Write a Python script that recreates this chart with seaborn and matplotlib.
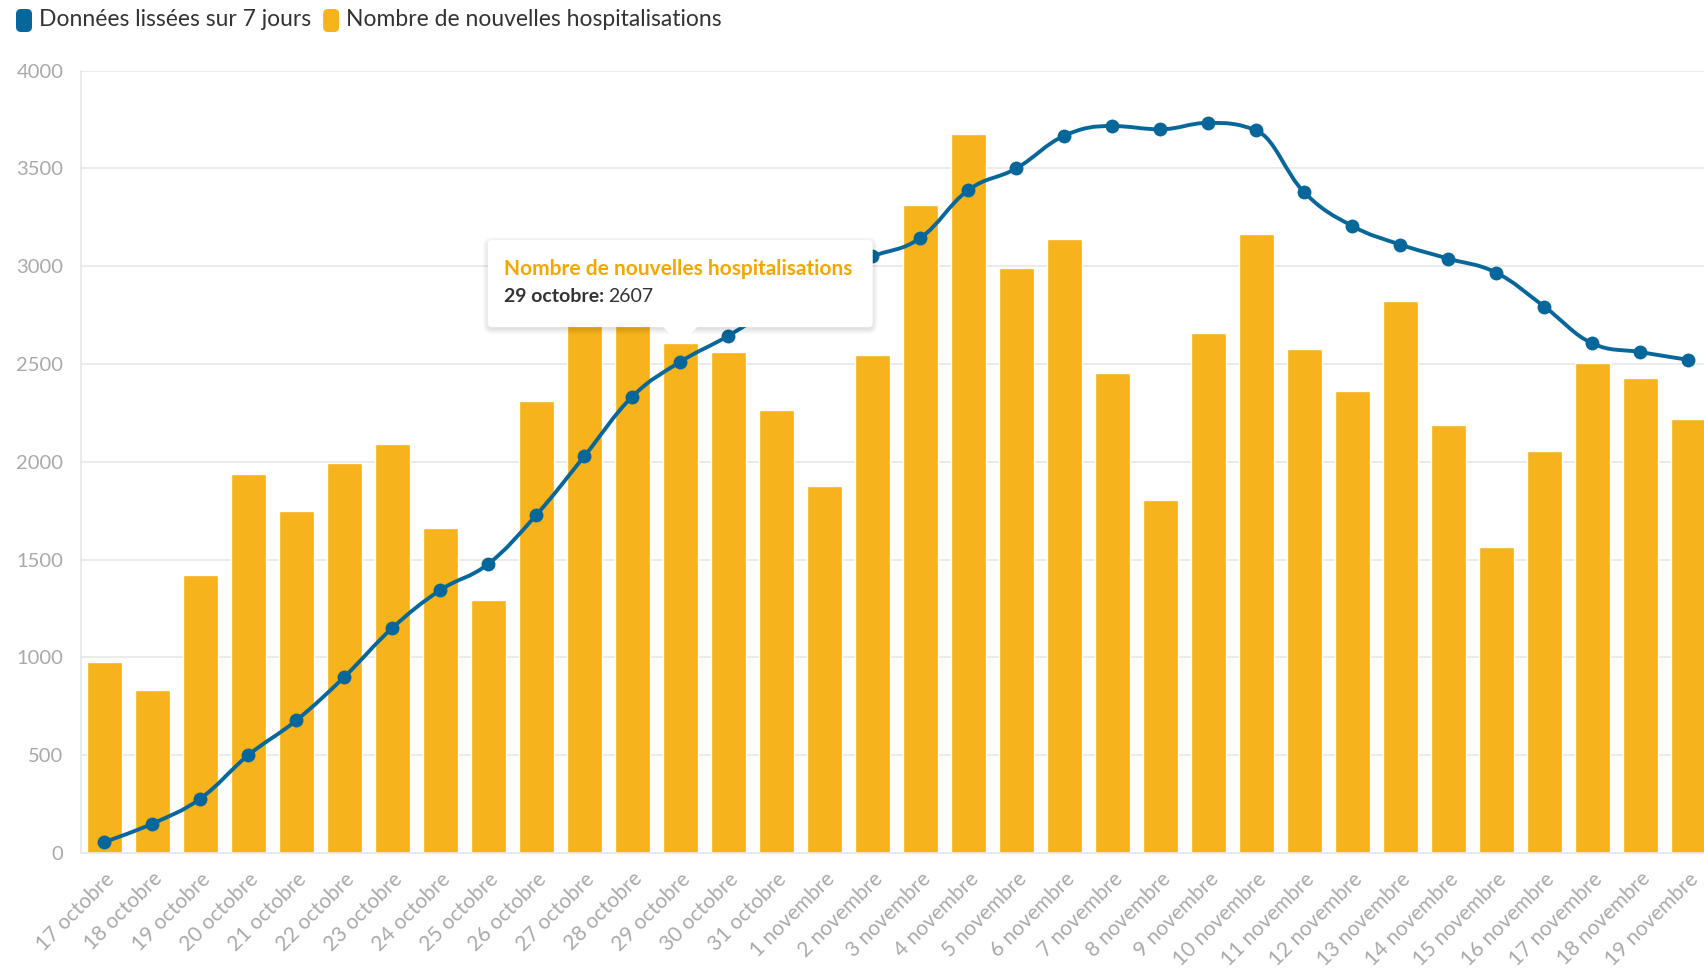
import matplotlib
matplotlib.use("Agg")
import matplotlib.pyplot as plt
from matplotlib.patches import FancyBboxPatch, Polygon, PathPatch
from matplotlib.path import Path
from matplotlib.transforms import IdentityTransform, ScaledTranslation
import numpy as np
import pandas as pd
import seaborn as sns

# data
dates = ["17 octobre", "18 octobre", "19 octobre", "20 octobre", "21 octobre",
         "22 octobre", "23 octobre", "24 octobre", "25 octobre", "26 octobre",
         "27 octobre", "28 octobre", "29 octobre", "30 octobre", "31 octobre",
         "1 novembre", "2 novembre", "3 novembre", "4 novembre", "5 novembre",
         "6 novembre", "7 novembre", "8 novembre", "9 novembre", "10 novembre",
         "11 novembre", "12 novembre", "13 novembre", "14 novembre", "15 novembre",
         "16 novembre", "17 novembre", "18 novembre", "19 novembre"]
hospitalisations = [978, 833, 1422, 1939, 1750, 1994, 2089, 1661, 1294, 2311,
                    2890, 2760, 2607, 2561, 2267, 1878, 2544, 3311, 3678, 2989,
                    3139, 2456, 1806, 2661, 3167, 2578, 2361, 2822, 2189, 1567,
                    2056, 2506, 2428, 2217]
lissees = [56, 150, 278, 500, 678, 900, 1150, 1344, 1478, 1728,
           2028, 2333, 2511, 2644, 2800, 2950, 3050, 3144, 3389, 3500,
           3667, 3717, 3700, 3733, 3694, 3378, 3206, 3111, 3039, 2967,
           2794, 2606, 2561, 2522]
yticks = [0, 500, 1000, 1500, 2000, 2500, 3000, 3500, 4000]

highlight = "29 octobre"
label_bars = "Nombre de nouvelles hospitalisations"
label_line = "Données lissées sur 7 jours"

orange = "#f6b31b"
orange_txt = "#f5a700"
blue = "#07679a"
grid_c = "#e8e8e8"
tick_c = "#a9a9a9"


def spline_path(xs, ys, smoothing=1.5):
    # curved path through the points (same idea as a charting "spline" series)
    n = len(xs)
    denom = smoothing + 1
    verts = [(xs[0], ys[0])]
    codes = [Path.MOVETO]
    right = [None] * n
    left = [None] * n
    for i in range(1, n - 1):
        lx = (smoothing * xs[i] + xs[i - 1]) / denom
        ly = (smoothing * ys[i] + ys[i - 1]) / denom
        rx = (smoothing * xs[i] + xs[i + 1]) / denom
        ry = (smoothing * ys[i] + ys[i + 1]) / denom
        if rx != lx:
            corr = ((ry - ly) * (rx - xs[i])) / (rx - lx) + ys[i] - ry
            ly += corr
            ry += corr
        if ly > max(ys[i - 1], ys[i]) or ly < min(ys[i - 1], ys[i]):
            ly = max(min(ly, max(ys[i - 1], ys[i])), min(ys[i - 1], ys[i]))
            ry = 2 * ys[i] - ly
        if ry > max(ys[i + 1], ys[i]) or ry < min(ys[i + 1], ys[i]):
            ry = max(min(ry, max(ys[i + 1], ys[i])), min(ys[i + 1], ys[i]))
            ly = 2 * ys[i] - ry
        left[i] = (lx, ly)
        right[i] = (rx, ry)
    for i in range(1, n):
        c1 = right[i - 1] if right[i - 1] is not None else (xs[i - 1], ys[i - 1])
        c2 = left[i] if left[i] is not None else (xs[i], ys[i])
        verts += [c1, c2, (xs[i], ys[i])]
        codes += [Path.CURVE4] * 3
    return Path(verts, codes)


df = pd.DataFrame({"date": dates, "hosp": hospitalisations, "lisse": lissees})
df["pos"] = np.arange(len(df))

sns.set_style("white")
plt.rcParams["font.family"] = ["Lato", "DejaVu Sans"]

fig = plt.figure(figsize=(17.04, 9.73), dpi=100)
ax = fig.add_axes([0.0478, 0.1233, 0.9522, 0.8041])

sns.barplot(data=df, x="date", y="hosp", color=orange, saturation=1,
            width=0.73, ax=ax, zorder=2)
# markers through seaborn, smoothed line through the same points
sns.lineplot(data=df, x="pos", y="lisse", color=blue, linestyle="",
             marker="o", markersize=10, markeredgewidth=0, ax=ax, zorder=4)
ax.add_patch(PathPatch(spline_path(df["pos"].tolist(), df["lisse"].tolist()),
                       fc="none", ec=blue, lw=2.8, zorder=3,
                       capstyle="round", joinstyle="round"))

ax.set_xlim(-0.475, 33.33)
ax.set_ylim(0, 4000)
ax.set_yticks(yticks)
ax.set_xlabel("")
ax.set_ylabel("")
ax.grid(axis="y", color=grid_c, linewidth=1.2, zorder=0)
ax.set_axisbelow(True)
for side in ["top", "right"]:
    ax.spines[side].set_visible(False)
for side in ["left", "bottom"]:
    ax.spines[side].set_color(grid_c)
    ax.spines[side].set_linewidth(1.2)
ax.tick_params(axis="y", length=8, width=1.2, color=grid_c, labelcolor=tick_c,
               labelsize=14.5, pad=5)
ax.tick_params(axis="x", length=8, width=1.2, color=grid_c, labelcolor=tick_c,
               labelsize=15, pad=7)
shift = ScaledTranslation(7 / 100, -2 / 100, fig.dpi_scale_trans)
for lbl in ax.get_xticklabels():
    lbl.set_rotation(45)
    lbl.set_ha("right")
    lbl.set_va("center")
    lbl.set_rotation_mode("anchor")
    lbl.set_transform(lbl.get_transform() + shift)

# legend drawn by hand (rounded swatches)
fig.canvas.draw()
renderer = fig.canvas.get_renderer()
H = fig.bbox.height
x_cur = 16
for col, lab in [(blue, label_line), (orange, label_bars)]:
    sw = FancyBboxPatch((x_cur, H - 32), 16, 23,
                        boxstyle="round,pad=0,rounding_size=5",
                        fc=col, ec="none", transform=IdentityTransform())
    fig.patches.append(sw)
    t = fig.text(x_cur + 23, H - 20, lab, transform=IdentityTransform(),
                 fontsize=16.5, color="#333333", va="center", ha="left")
    x_cur = t.get_window_extent(renderer).x1 + 12

# tooltip on the highlighted bar
i = dates.index(highlight)
val = hospitalisations[i]
tx, ty = ax.transData.transform((i, val))
bw, bh = 385, 87
bx0, by0 = tx - bw / 2, ty + 16

# soft shadow: stacked faint boxes
for k in range(6, 0, -1):
    sh = FancyBboxPatch((bx0 - k + 1, by0 - k - 1), bw + 2 * k - 2, bh + 2 * k - 2,
                        boxstyle=f"round,pad=0,rounding_size={4 + k}",
                        fc="black", ec="none", alpha=0.018,
                        transform=IdentityTransform(), zorder=9)
    ax.add_artist(sh)
box = FancyBboxPatch((bx0, by0), bw, bh, boxstyle="round,pad=0,rounding_size=4",
                     fc="white", ec="none", transform=IdentityTransform(), zorder=10)
ax.add_artist(box)
tri = Polygon([[tx - 18, by0 + 1], [tx + 18, by0 + 1], [tx, ty - 1]], closed=True,
              fc="white", ec="none", transform=IdentityTransform(), zorder=10)
ax.add_artist(tri)

t1 = ax.text(bx0 + 16, by0 + bh - 29, label_bars, transform=IdentityTransform(),
             fontsize=15, fontweight="bold", color=orange_txt, va="center",
             zorder=12)
t2 = ax.text(bx0 + 16, by0 + bh - 56, highlight + ":", transform=IdentityTransform(),
             fontsize=14, fontweight="bold", color="#333333", va="center",
             zorder=12)
x2 = t2.get_window_extent(renderer).x1 + 4
ax.text(x2, by0 + bh - 56, f"{val}", transform=IdentityTransform(),
        fontsize=14, color="#333333", va="center", zorder=12)

fig.savefig("out.png", dpi=100)
